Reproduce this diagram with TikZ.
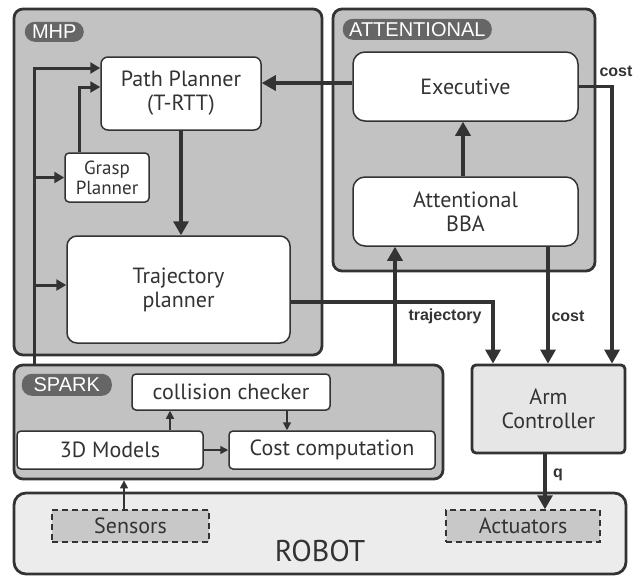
\documentclass[tikz,border=0pt]{standalone}
\usepackage{fontspec}
\setmainfont{PT Sans}
\newfontfamily\labelfont{Liberation Sans}
\usepackage{tikz}
\usetikzlibrary{positioning,arrows.meta}

\definecolor{linecol}{HTML}{333333}
\definecolor{groupfill}{HTML}{C2C2C2}
\definecolor{pillfill}{HTML}{666666}
\definecolor{robotfill}{HTML}{ECECEC}
\definecolor{armfill}{HTML}{E6E6E6}
\definecolor{devfill}{HTML}{C8C8C8}

\tikzset{
  group/.style={draw=linecol,fill=groupfill,line width=2.8pt,rounded corners=9pt,inner sep=0pt},
  box/.style={draw=linecol,fill=white,line width=1.5pt,rounded corners=7pt,align=center,inner sep=0pt,
    text=linecol,font=\fontsize{22}{24}\selectfont},
  pill/.style={fill=pillfill,text=white,rounded corners=10pt,inner sep=0pt,
    font=\labelfont\fontsize{20}{20}\selectfont},
  device/.style={draw=linecol,fill=devfill,line width=1.5pt,dash pattern=on 6pt off 4pt,inner sep=0pt,
    text=linecol,font=\fontsize{22}{24}\selectfont},
  link/.style={draw=linecol,line width=3.2pt,-{Triangle[width=15pt,length=14pt]}},
  feed/.style={draw=linecol,line width=3pt,-{Triangle[width=11pt,length=10pt]}},
  thin/.style={draw=linecol,line width=1.5pt,-{Triangle[width=8pt,length=8pt]}},
  tag/.style={text=linecol,inner sep=0pt,font=\labelfont\bfseries\fontsize{16}{16}\selectfont},
}

\begin{document}
\begin{tikzpicture}[x=1pt,y=-1pt]
  \useasboundingbox[fill=white] (0,0) rectangle (643,576);

  \node[group,minimum width=308pt,minimum height=346pt] at (168,182) (mhp) {};
  \node[group,minimum width=262pt,minimum height=262pt] at (464,140) (att) {};
  \node[group,minimum width=429pt,minimum height=114pt] at (228.5,422) (spark) {};
  \node[group,fill=robotfill,rounded corners=12pt,minimum width=612pt,minimum height=81pt] at (320,533.5) (robot) {};
  \node[group,fill=armfill,rounded corners=4pt,minimum width=153pt,minimum height=88pt,align=center,
    text=linecol,font=\fontsize{22}{24}\selectfont] at (548.5,409) (arm) {Arm\\Controller};

  \node[pill,minimum width=59pt,minimum height=20pt,below right=14pt and 12pt of mhp.north west] (mhptag) {MHP};
  \node[pill,minimum width=149pt,minimum height=21pt,below right=11pt and 11pt of att.north west] (atttag) {ATTENTIONAL};
  \node[pill,minimum width=90pt,minimum height=22pt,below right=10pt and 9pt of spark.north west] (sparktag) {SPARK};

  \node[box,minimum width=160pt,minimum height=73pt] at (181,93.5) (pp) {Path Planner\\(T-RTT)};
  \node[box,rounded corners=4pt,minimum width=84pt,minimum height=49pt,font=\fontsize{19}{20}\selectfont] at (107,177.5) (grasp) {Grasp\\Planner};
  \node[box,rounded corners=10pt,minimum width=223pt,minimum height=107pt] at (178.5,289.5) (traj) {Trajectory\\planner};
  \node[box,rounded corners=12pt,minimum width=225pt,minimum height=69pt] at (465.5,86.5) (exec) {Executive};
  \node[box,rounded corners=12pt,minimum width=225pt,minimum height=69pt] at (465.5,211.5) (bba) {Attentional\\BBA};

  \node[box,rounded corners=4pt,minimum width=198pt,minimum height=36pt] at (231,392) (cc) {collision checker};
  \node[box,rounded corners=4pt,minimum width=186pt,minimum height=38pt] at (110,450) (models) {3D Models};
  \node[box,rounded corners=4pt,minimum width=206pt,minimum height=38pt] at (332,450) (costc) {Cost computation};

  \node[device,minimum width=157pt,minimum height=32pt] at (130.5,526) (sensors) {Sensors};
  \node[device,minimum width=154pt,minimum height=32pt] at (523,526) (act) {Actuators};
  \node[text=linecol,font=\fontsize{30}{30}\selectfont] at (320,551) (robotname) {ROBOT};

  \coordinate (feedtop) at (34,68);
  \coordinate (graspup) at (79,87);
  \coordinate (trajout) at (493,302);
  \coordinate (trajup) at (395,302);
  \coordinate (costout) at (612,86);
  \coordinate (costdown) at (548,300);
  \coordinate (qline) at (545,480);

  \draw[feed] (spark.north -| feedtop) -- (feedtop) -- (feedtop -| pp.west);
  \draw[feed] (feedtop |- grasp) -- (grasp.west);
  \draw[feed] (feedtop |- 0,285) -- (traj.west |- 0,285);
  \draw[feed] (grasp.north -| graspup) -- (graspup) -- (graspup -| pp.west);
  \draw[link] (pp.south) -- (pp.south |- traj.north);
  \draw[link] (exec.west |- 0,83) -- (pp.east |- 0,83);
  \draw[link] (bba.north -| 463,0) -- (exec.south -| 463,0);
  \draw[link] (exec.east) -- (exec.east -| costout) -- (arm.north -| costout);
  \draw[link] (bba.south -| costdown) -- (arm.north -| costdown);
  \draw[link] (traj.east |- trajout) -- (trajout) -- (arm.north -| trajout);
  \draw[link] (spark.north -| trajup) -- (bba.south -| trajup);
  \draw[link] (arm.south -| qline) -- (act.north -| qline);

  \draw[thin] (models.north -| 170,0) -- (cc.south -| 170,0);
  \draw[thin] (cc.south -| 287,0) -- (costc.north -| 287,0);
  \draw[thin] (models.east) -- (costc.west);
  \draw[thin] (sensors.north -| 124,0) -- (spark.south -| 124,0);

  \node[tag] at (616,71) (costtop) {cost};
  \node[tag] at (568,316) (costbba) {cost};
  \node[tag] at (445,316) (trajtag) {trajectory};
  \node[tag] at (558,475) (qtag) {q};
\end{tikzpicture}
\end{document}
